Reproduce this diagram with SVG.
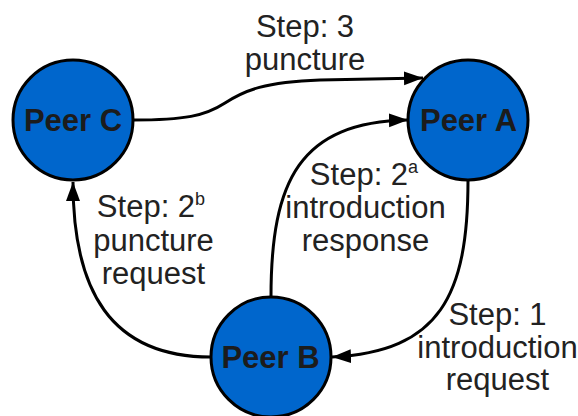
<svg xmlns="http://www.w3.org/2000/svg" width="578" height="416" viewBox="0 0 578 416">
  <style>
    .peer { fill: #0066cc; stroke: #000; stroke-width: 3; }
    .peer-label { font-family: "Liberation Sans", Arial, sans-serif; font-weight: bold; font-size: 31px; fill: #1c1c1c; text-anchor: middle; }
    .step { font-family: "Liberation Sans", Arial, sans-serif; font-size: 31px; fill: #222; text-anchor: middle; }
    .sup { font-size: 18px; }
    .edge { fill: none; stroke: #000; stroke-width: 3; marker-end: url(#arrow); }
  </style>
  <defs>
    <marker id="arrow" markerUnits="userSpaceOnUse" markerWidth="20" markerHeight="16" refX="19" refY="7" orient="auto" viewBox="0 0 20 14">
      <path d="M0,0 L19,7 L0,14 z" fill="#000"/>
    </marker>
  </defs>

  <!-- connectors -->
  <g id="connectors">
    <!-- Step 3: C punctures toward A -->
    <path class="edge" d="M133,120 C185,120 205,116 225,103 C245,90 265,82 320,80 L423,78"/>
    <!-- Step 1: A to B introduction request -->
    <path class="edge" d="M468,180 C468,295 440,352 332,357"/>
    <!-- Step 2a: B to A introduction response -->
    <path class="edge" d="M271,297 C271,180 300,122 408,120"/>
    <!-- Step 2b: B to C puncture request -->
    <path class="edge" d="M211,357 C110,357 73,290 73,182"/>
  </g>

  <!-- edge labels -->
  <g id="labels">
    <text class="step" x="305" y="37">Step: 3</text>
    <text class="step" x="305" y="70">puncture</text>

    <text class="step" x="364" y="185">Step: 2<tspan class="sup" dy="-12">a</tspan></text>
    <text class="step" x="365.5" y="218">introduction</text>
    <text class="step" x="365.5" y="251">response</text>

    <text class="step" x="151" y="217">Step: 2<tspan class="sup" dy="-12">b</tspan></text>
    <text class="step" x="153.5" y="251">puncture</text>
    <text class="step" x="153.5" y="284">request</text>

    <text class="step" x="497.5" y="325">Step: 1</text>
    <text class="step" x="497.5" y="358">introduction</text>
    <text class="step" x="497.5" y="390">request</text>
  </g>

  <!-- peers -->
  <g id="peer-c">
    <circle class="peer" cx="73" cy="120" r="60"/>
    <text class="peer-label" x="73" y="131">Peer C</text>
  </g>
  <g id="peer-a">
    <circle class="peer" cx="468" cy="120" r="60"/>
    <text class="peer-label" x="468.5" y="131">Peer A</text>
  </g>
  <g id="peer-b">
    <circle class="peer" cx="271" cy="357" r="60"/>
    <text class="peer-label" x="270.5" y="368">Peer B</text>
  </g>
</svg>
